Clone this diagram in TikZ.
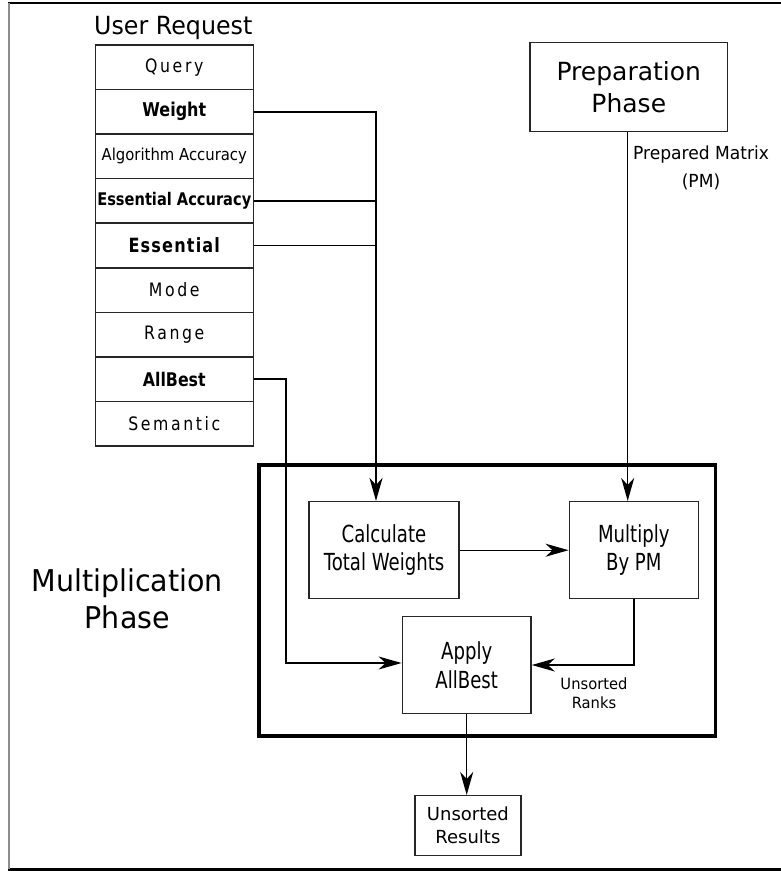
\documentclass[tikz,border=0pt]{standalone}
\usepackage{fontspec}
\setmainfont{DejaVu Sans}
% Narrowed and tracked cuts of DejaVu Sans for the various labels
\newfontfamily\fTitle[FakeStretch=0.95]{DejaVu Sans}
\newfontfamily\fBox[FakeStretch=0.77]{DejaVu Sans}
\newfontfamily\fSpaced[FakeStretch=0.85,LetterSpace=14]{DejaVu Sans}
\newfontfamily\fAlg[FakeStretch=0.9]{DejaVu Sans}
\newfontfamily\fBold[FakeStretch=0.84]{DejaVu Sans}
\newfontfamily\fEss[FakeStretch=0.82,LetterSpace=6]{DejaVu Sans}
\usetikzlibrary{arrows.meta}

\begin{document}
\begin{tikzpicture}[x=1pt,y=-1pt,
  conn/.style={draw=black, line width=1.4pt},
  arr/.style={-{Stealth[length=23pt,width=13pt,inset=7pt]}},
  cell/.style={draw=black!85, line width=1.5pt, minimum width=158pt,
    minimum height=44.55pt, inner sep=0pt},
  spaced/.style={font=\fSpaced\fontsize{18.5}{22}\selectfont},
  boldcell/.style={font=\fBold\bfseries\fontsize{19}{22}\selectfont},
  procbox/.style={draw=black!85, line width=1.5pt, inner sep=0pt, align=center,
    font=\fBox\fontsize{23.5}{28.5}\selectfont},
]
\useasboundingbox (0,0) rectangle (781,871);

% page frame
\draw[line width=2.5pt] (8,3) -- (781,3);
\draw[line width=2.5pt] (8,869.3) -- (781,869.3);
\draw[line width=1.5pt, black!45] (9,3) -- (9,869.3);

% user request table
\node[anchor=base, font=\fTitle\fontsize{25}{30}\selectfont] (urtitle) at (173.3,34.3) {User Request};
\node[cell, spaced] (query) at (174.3,67.3) {Query};
\node[cell, boldcell] (weight) at (174.3,111.8) {Weight};
\node[cell, font=\fAlg\fontsize{16.5}{20}\selectfont] (algacc) at (174.3,156.4) {Algorithm Accuracy};
\node[cell, font=\fBold\bfseries\fontsize{17.4}{20}\selectfont] (essacc) at (174.3,200.9) {Essential Accuracy};
\node[cell, font=\fEss\bfseries\fontsize{19.6}{22}\selectfont] (ess) at (174.3,245.5) {Essential};
\node[cell, spaced] (mode) at (174.3,290.0) {Mode};
\node[cell, spaced] (range) at (174.3,334.6) {Range};
\node[cell, font=\fBold\bfseries\fontsize{18.8}{22}\selectfont] (allbest) at (174.3,379.1) {AllBest};
\node[cell, spaced] (semantic) at (174.3,423.7) {Semantic};

% preparation phase
\node[draw=black!85, line width=1.5pt, minimum width=197.7pt, minimum height=89pt,
  inner sep=0pt, align=center, font=\fontsize{25}{32.4}\selectfont] (prep) at (628.8,87.2)
  {Preparation\\Phase};
\node[align=center, font=\fTitle\fontsize{18}{28}\selectfont] (pmlabel) at (701,168.3)
  {Prepared Matrix\\(PM)};

% multiplication phase frame and its caption
\node[draw=black, line width=3.6pt, minimum width=456.7pt, minimum height=271pt,
  inner sep=0pt] (mphase) at (487.3,600.5) {};
\node[align=center, font=\fTitle\fontsize{30}{37.6}\selectfont] (mlabel) at (127.3,599)
  {Multiplication\\Phase};

% processing steps
\node[procbox, minimum width=150pt, minimum height=97pt] (calc) at (384,550.2)
  {Calculate\\Total Weights};
\node[procbox, minimum width=129pt, minimum height=97pt] (mult) at (633.8,550.2)
  {Multiply\\By PM};
\node[procbox, minimum width=128.7pt, minimum height=96.6pt] (apply) at (466.7,665)
  {Apply\\AllBest};
\node[align=center, font=\fTitle\fontsize{15.5}{19}\selectfont] (rankslabel) at (594,693.6)
  {Unsorted\\Ranks};
\node[draw=black!85, line width=1.5pt, minimum width=105.7pt, minimum height=59.6pt,
  inner sep=0pt, align=center, font=\fontsize{18}{22.6}\selectfont] (results) at (467.9,825.5)
  {Unsorted\\Results};

% bus positions
\coordinate (wbus) at (376,0);
\coordinate (pmbus) at (627.7,0);
\coordinate (abus) at (286,663);

% request fields feeding the weight calculation
\draw[conn] (weight.east) -| (wbus |- ess.east);
\draw[conn] (essacc.east) -- (essacc.east -| wbus);
\draw[conn] (ess.east) -- (ess.east -| wbus);
\draw[conn, line width=2.4pt, arr] (ess.east -| wbus) -- (wbus |- calc.north);

% prepared matrix into the multiplication
\draw[conn, arr] (prep.south -| pmbus) -- (pmbus |- mult.north);

% flow inside the multiplication phase
\draw[conn, arr] (calc.east) -- (mult.west |- calc.east);
\draw[conn, arr] (mult.south) |- (apply.east);
\draw[conn, arr] (allbest.east) -| (abus) -- (abus -| apply.west);
\draw[conn, arr] (apply.south) -- (apply.south |- results.north);
\end{tikzpicture}
\end{document}
